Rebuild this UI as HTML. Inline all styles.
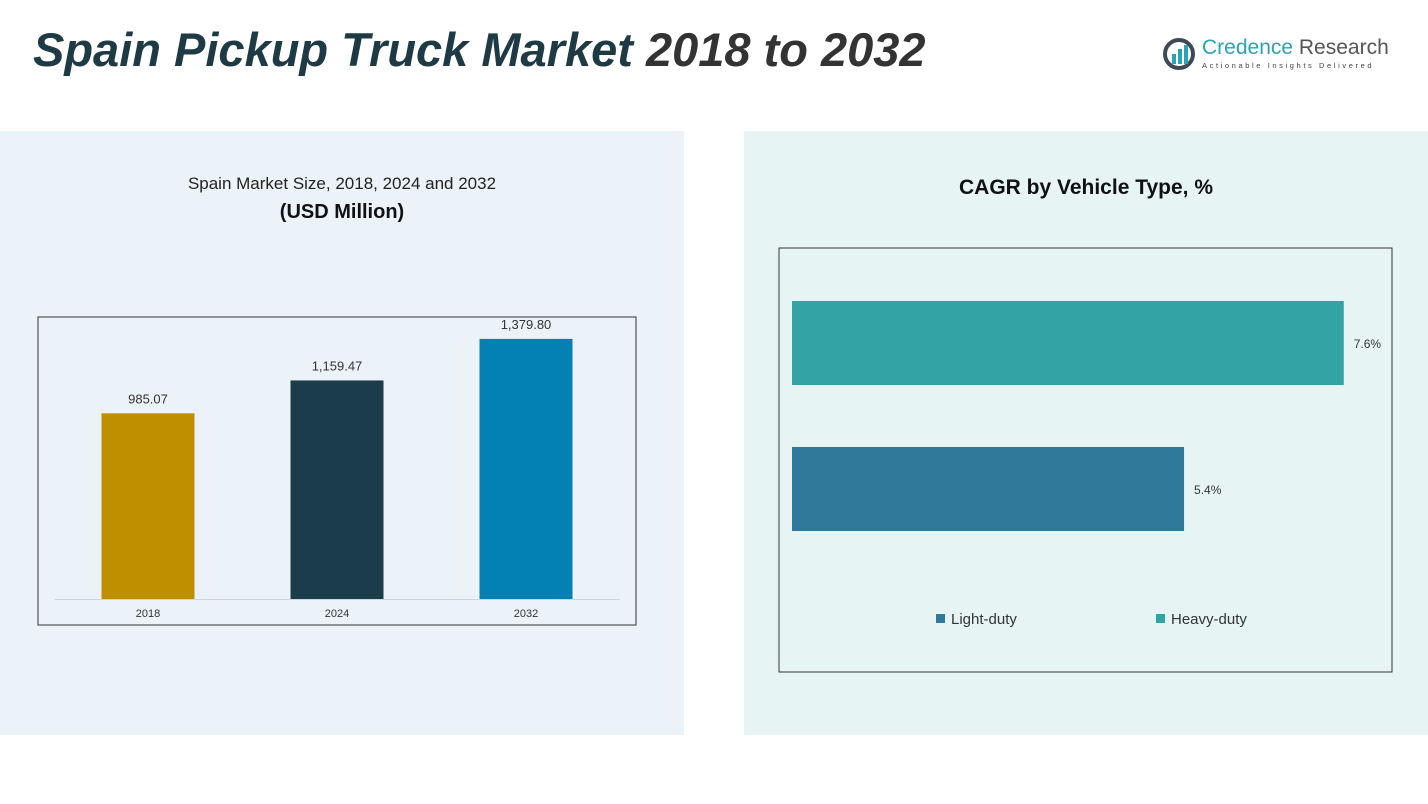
<!DOCTYPE html>
<html><head><meta charset="utf-8"><style>
body{margin:0;width:1428px;height:804px;background:#fff;position:relative;overflow:hidden;font-family:"Liberation Sans",sans-serif}
.abs{position:absolute}
</style></head><body>
<div class="abs" style="left:0;top:131px;width:684px;height:604px;background:#ebf3f8"></div>
<div class="abs" style="left:744px;top:131px;width:684px;height:604px;background:#e6f4f4"></div>
<div class="abs" style="left:33px;top:22px;font-size:47px;font-weight:bold;font-style:italic;color:#1d3a45;white-space:nowrap">Spain Pickup Truck Market<span style="color:#333"> 2018 to 2032</span></div>
<div class="abs" style="left:1162px;top:36px;width:240px;height:40px">
<svg width="36" height="36" style="position:absolute;left:0;top:0"><circle cx="17" cy="18" r="14" fill="none" stroke="#3d4a55" stroke-width="4"/><rect x="10" y="18" width="4" height="10" fill="#2aa3b5"/><rect x="16" y="13" width="4" height="15" fill="#2aa3b5"/><rect x="22" y="9" width="4" height="19" fill="#2aa3b5"/></svg>
<div style="position:absolute;left:40px;top:0;font-size:21px;color:#2aa3b5;white-space:nowrap">Credence <span style="color:#555">Research</span></div>
<div style="position:absolute;left:40px;top:25px;font-size:7.5px;letter-spacing:2.6px;color:#444;white-space:nowrap">Actionable Insights Delivered</div>
</div>
<div class="abs" style="left:0;width:684px;top:174px;text-align:center;font-size:17px;color:#222">Spain Market Size, 2018, 2024 and 2032</div>
<div class="abs" style="left:0;width:684px;top:201px;text-align:center;font-size:20px;font-weight:bold;color:#111">(USD Million)</div>
<div class="abs" style="left:744px;width:684px;top:176px;text-align:center;font-size:21px;font-weight:bold;color:#111">CAGR by Vehicle Type, %</div>
<svg id="c1" class="abs" style="left:0;top:0" width="1428" height="804"></svg>
<script>
const years=["2018","2024","2032"];
const sizes=[985.07,1159.47,1379.80];
const sizeLabels=["985.07","1,159.47","1,379.80"];
const barColors=["#c08f00","#1a3c4b","#0380b4"];
const types=["Heavy-duty","Light-duty"];
const cagr=[7.6,5.4];
const cagrLabels=["7.6%","5.4%"];
const typeColors=["#33a3a5","#31799a"];
const ns="http://www.w3.org/2000/svg";
const svg=document.getElementById('c1');
function mk(t,a,txt){const e=document.createElementNS(ns,t);for(const k in a)e.setAttribute(k,a[k]);if(txt!==undefined)e.textContent=txt;svg.appendChild(e);return e;}
let f=mk('rect',{x:38,y:317,width:598,height:308,fill:'none',stroke:'#333','stroke-width':1});


let bl=mk('line',{x1:55,x2:620,y1:599.5,y2:599.5,stroke:'#ccd6dc'});


const base=599,scale=0.1885;
const xc=i=>148+i*189;
const yv=v=>base-v*scale;
years.forEach((y,i)=>{
 let r=mk('rect',{x:xc(i)-46.5,y:yv(sizes[i]),width:93,height:base-yv(sizes[i]),fill:barColors[i]});
 
 
 let t=mk('text',{x:xc(i),y:yv(sizes[i])-10,'text-anchor':'middle','font-size':13,fill:'#333'},sizeLabels[i]);
 
 
 let l=mk('text',{x:xc(i),y:617,'text-anchor':'middle','font-size':11,fill:'#333'},y);
 
 
});
let f2=mk('rect',{x:779,y:248,width:613,height:424,fill:'none',stroke:'#333','stroke-width':1});


const x0=792,pxPer=72.6;
const yb=i=>301+i*146;
types.forEach((t,i)=>{
 let r=mk('rect',{x:x0,y:yb(i),width:cagr[i]*pxPer,height:84,fill:typeColors[i]});
 
 
 let l=mk('text',{x:x0+cagr[i]*pxPer+10,y:yb(i)+47,'font-size':12,fill:'#333'},cagrLabels[i]);
 
 
});
const legX=[936,1156],legOrder=[1,0];
legOrder.forEach((k,j)=>{
 let s=mk('rect',{x:legX[j],y:614,width:9,height:9,fill:typeColors[k]});
 
 
 let t=mk('text',{x:legX[j]+15,y:624,'font-size':15,fill:'#333'},types[k]);
 
 
});
</script>
</body></html>
